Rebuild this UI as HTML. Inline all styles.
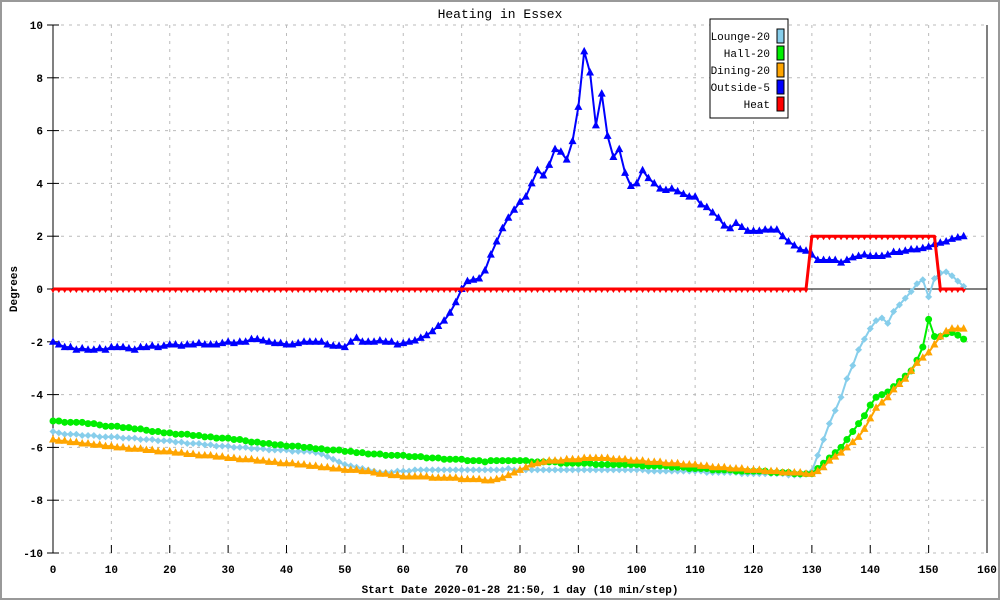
<!DOCTYPE html>
<html><head><meta charset="utf-8"><style>
html,body{margin:0;padding:0;background:#fff}
svg{display:block}
text{font-family:"Liberation Mono",monospace;font-size:11px;font-weight:bold;fill:#000}
#legend text{font-weight:normal}
</style></head><body>
<svg id="chart" width="1000" height="600" viewBox="0 0 1000 600" xmlns="http://www.w3.org/2000/svg">
<rect x="1" y="1" width="998" height="598" fill="#fff" stroke="#999" stroke-width="2"/>
<text x="500" y="18" text-anchor="middle" style="font-size:13px;font-weight:normal">Heating in Essex</text>
<text transform="translate(17,289) rotate(-90)" text-anchor="middle">Degrees</text>
<text x="520" y="593" text-anchor="middle">Start Date 2020-01-28 21:50, 1 day (10 min/step)</text>
<g id="grid"></g>
<g id="axes"></g>
<g id="series"></g>
<g id="legend">
<rect x="710" y="19" width="78" height="99" fill="#fff" stroke="#000"/>
</g>
</svg>
<script>
const xTicks=[0,10,20,30,40,50,60,70,80,90,100,110,120,130,140,150,160];
const yTicks=[-10,-8,-6,-4,-2,0,2,4,6,8,10];
const seriesNames=["Lounge-20","Hall-20","Dining-20","Outside-5","Heat"];
const lounge=[-5.4,-5.45,-5.5,-5.5,-5.5,-5.55,-5.55,-5.55,-5.6,-5.6,
-5.6,-5.6,-5.65,-5.65,-5.65,-5.7,-5.7,-5.7,-5.75,-5.75,
-5.75,-5.8,-5.8,-5.85,-5.85,-5.85,-5.9,-5.9,-5.95,-5.95,
-5.95,-6.0,-6.0,-6.0,-6.05,-6.05,-6.05,-6.1,-6.1,-6.1,
-6.1,-6.15,-6.15,-6.15,-6.15,-6.2,-6.25,-6.35,-6.45,-6.55,
-6.65,-6.7,-6.75,-6.8,-6.85,-6.9,-6.95,-6.95,-6.95,-6.9,
-6.9,-6.9,-6.85,-6.85,-6.85,-6.85,-6.85,-6.85,-6.85,-6.85,
-6.85,-6.85,-6.85,-6.85,-6.85,-6.85,-6.85,-6.85,-6.8,-6.85,
-6.85,-6.85,-6.85,-6.85,-6.85,-6.85,-6.85,-6.85,-6.85,-6.85,
-6.85,-6.85,-6.85,-6.85,-6.85,-6.85,-6.85,-6.85,-6.85,-6.85,
-6.85,-6.85,-6.9,-6.9,-6.9,-6.9,-6.9,-6.9,-6.9,-6.9,
-6.9,-6.9,-6.95,-6.95,-6.95,-6.95,-6.95,-6.95,-7.0,-7.0,
-7.0,-7.0,-7.0,-7.0,-7.0,-7.0,-7.05,-7.05,-7.05,-7.0,
-6.9,-6.3,-5.7,-5.1,-4.6,-4.1,-3.4,-2.9,-2.3,-1.9,
-1.5,-1.2,-1.1,-1.3,-0.85,-0.6,-0.35,-0.1,0.2,0.35,
-0.3,0.4,0.6,0.65,0.5,0.3,0.1];
const hall=[-5.0,-5.0,-5.05,-5.05,-5.05,-5.05,-5.1,-5.1,-5.15,-5.2,
-5.2,-5.2,-5.25,-5.25,-5.3,-5.3,-5.35,-5.4,-5.4,-5.45,
-5.45,-5.5,-5.5,-5.5,-5.55,-5.55,-5.6,-5.6,-5.65,-5.65,
-5.65,-5.7,-5.7,-5.75,-5.8,-5.8,-5.85,-5.85,-5.9,-5.9,
-5.95,-5.95,-5.95,-6.0,-6.0,-6.05,-6.05,-6.1,-6.1,-6.1,
-6.15,-6.15,-6.2,-6.2,-6.25,-6.25,-6.25,-6.3,-6.3,-6.3,
-6.3,-6.35,-6.35,-6.35,-6.4,-6.4,-6.4,-6.45,-6.45,-6.45,
-6.45,-6.5,-6.5,-6.5,-6.55,-6.5,-6.5,-6.5,-6.5,-6.5,
-6.5,-6.5,-6.55,-6.55,-6.55,-6.55,-6.55,-6.6,-6.6,-6.6,
-6.6,-6.6,-6.6,-6.65,-6.65,-6.65,-6.65,-6.65,-6.65,-6.65,
-6.65,-6.7,-6.7,-6.7,-6.7,-6.7,-6.75,-6.75,-6.75,-6.8,
-6.8,-6.8,-6.8,-6.85,-6.85,-6.85,-6.85,-6.9,-6.9,-6.9,
-6.9,-6.9,-6.9,-6.95,-6.95,-6.95,-6.95,-7.0,-7.0,-7.0,
-7.0,-6.8,-6.6,-6.4,-6.2,-6.0,-5.7,-5.4,-5.1,-4.8,
-4.4,-4.1,-4.0,-3.9,-3.7,-3.5,-3.3,-3.1,-2.7,-2.2,
-1.15,-1.8,-1.8,-1.7,-1.65,-1.75,-1.9];
const dining=[-5.7,-5.75,-5.75,-5.8,-5.8,-5.85,-5.85,-5.9,-5.9,-5.95,
-5.95,-6.0,-6.0,-6.05,-6.05,-6.05,-6.1,-6.1,-6.15,-6.15,
-6.15,-6.2,-6.2,-6.25,-6.25,-6.3,-6.3,-6.3,-6.35,-6.35,
-6.4,-6.4,-6.45,-6.45,-6.45,-6.5,-6.5,-6.55,-6.55,-6.6,
-6.6,-6.6,-6.65,-6.65,-6.7,-6.7,-6.75,-6.75,-6.8,-6.8,
-6.85,-6.85,-6.85,-6.9,-6.9,-6.95,-7.0,-7.0,-7.05,-7.05,
-7.1,-7.1,-7.1,-7.1,-7.1,-7.15,-7.15,-7.15,-7.15,-7.15,
-7.2,-7.2,-7.2,-7.2,-7.25,-7.25,-7.2,-7.15,-7.05,-6.95,
-6.85,-6.75,-6.65,-6.6,-6.55,-6.5,-6.5,-6.5,-6.45,-6.45,
-6.45,-6.4,-6.4,-6.4,-6.4,-6.4,-6.45,-6.45,-6.45,-6.5,
-6.5,-6.5,-6.55,-6.55,-6.55,-6.6,-6.6,-6.6,-6.65,-6.65,
-6.65,-6.7,-6.7,-6.75,-6.75,-6.75,-6.8,-6.8,-6.8,-6.85,
-6.85,-6.85,-6.9,-6.9,-6.9,-6.95,-6.95,-6.95,-6.95,-7.0,
-7.0,-6.9,-6.75,-6.5,-6.35,-6.2,-6.0,-5.8,-5.6,-5.3,
-4.9,-4.5,-4.3,-4.1,-3.8,-3.6,-3.4,-3.1,-2.8,-2.6,
-2.4,-2.1,-1.8,-1.6,-1.5,-1.5,-1.5];
const outside=[-2.0,-2.1,-2.2,-2.2,-2.3,-2.25,-2.3,-2.3,-2.25,-2.3,
-2.2,-2.2,-2.2,-2.25,-2.3,-2.2,-2.2,-2.15,-2.2,-2.15,
-2.1,-2.1,-2.15,-2.1,-2.1,-2.05,-2.1,-2.1,-2.1,-2.05,
-2.0,-2.05,-2.0,-2.0,-1.9,-1.9,-1.95,-2.0,-2.05,-2.05,
-2.1,-2.1,-2.05,-2.0,-2.0,-2.0,-2.0,-2.1,-2.15,-2.15,
-2.2,-2.0,-1.85,-2.0,-2.0,-2.0,-1.95,-2.0,-2.0,-2.1,
-2.05,-2.0,-1.95,-1.85,-1.75,-1.6,-1.4,-1.2,-0.9,-0.5,
0.0,0.3,0.35,0.4,0.7,1.3,1.8,2.3,2.7,3.0,
3.3,3.5,4.0,4.5,4.3,4.7,5.3,5.2,4.9,5.6,
6.9,9.0,8.2,6.2,7.4,5.8,5.0,5.3,4.4,3.9,
4.0,4.5,4.2,4.0,3.8,3.75,3.8,3.7,3.6,3.5,
3.5,3.2,3.1,2.9,2.7,2.4,2.3,2.5,2.35,2.2,
2.2,2.2,2.25,2.25,2.25,2.0,1.8,1.65,1.5,1.45,
1.3,1.1,1.1,1.1,1.1,1.0,1.1,1.2,1.25,1.3,
1.25,1.25,1.25,1.3,1.4,1.4,1.45,1.5,1.5,1.55,
1.6,1.7,1.75,1.8,1.9,1.95,2.0];
const heat=[0,0,0,0,0,0,0,0,0,0,0,0,0,0,0,0,0,0,0,0,
0,0,0,0,0,0,0,0,0,0,0,0,0,0,0,0,0,0,0,0,
0,0,0,0,0,0,0,0,0,0,0,0,0,0,0,0,0,0,0,0,
0,0,0,0,0,0,0,0,0,0,0,0,0,0,0,0,0,0,0,0,
0,0,0,0,0,0,0,0,0,0,0,0,0,0,0,0,0,0,0,0,
0,0,0,0,0,0,0,0,0,0,0,0,0,0,0,0,0,0,0,0,
0,0,0,0,0,0,0,0,0,0,
2,2,2,2,2,2,2,2,2,2,2,2,2,2,2,2,2,2,2,2,2,2,
0,0,0,0,0];

const NS='http://www.w3.org/2000/svg';
const L=53,R=987,T=25,B=553,XMIN=0,XMAX=160,YMIN=-10,YMAX=10;
function sx(v){return L+(v-XMIN)/(XMAX-XMIN)*(R-L);}
function sy(v){return B-(v-YMIN)/(YMAX-YMIN)*(B-T);}
function mk(tag,attrs,parent){const e=document.createElementNS(NS,tag);for(const k in attrs)e.setAttribute(k,attrs[k]);parent.appendChild(e);return e;}
const grid=document.getElementById('grid'),axes=document.getElementById('axes'),ser=document.getElementById('series'),leg=document.getElementById('legend');
xTicks.forEach(t=>{
  const g=mk('line',{x1:sx(t),x2:sx(t),y1:T,y2:B,stroke:'#bbb','stroke-dasharray':'3,5'},grid);
  
  
  const tk=mk('line',{x1:sx(t),x2:sx(t),y1:B,y2:B-8,stroke:'#000'},axes);
  
  
  const tx=mk('text',{x:sx(t),y:B+20,'text-anchor':'middle'},axes);tx.textContent=t;
  
  
});
yTicks.forEach(t=>{
  const g=mk('line',{x1:L,x2:R,y1:sy(t),y2:sy(t),stroke:'#bbb','stroke-dasharray':'3,5'},grid);
  
  
  const tk=mk('line',{x1:L-6,x2:L+6,y1:sy(t),y2:sy(t),stroke:'#000'},axes);
  
  
  const tx=mk('text',{x:L-10,y:sy(t)+4,'text-anchor':'end'},axes);tx.textContent=t;
  
  
});
let a=mk('line',{x1:L,x2:L,y1:T,y2:B,stroke:'#000'},axes);


a=mk('line',{x1:R,x2:R,y1:T,y2:B,stroke:'#000'},axes);


a=mk('line',{x1:L,x2:R,y1:sy(0),y2:sy(0),stroke:'#000'},axes);



const colors=['#87ceeb','#00ee00','#ffa500','#0000ff','#ff0000'];
const datasets=[lounge,hall,dining,outside,heat];
const shapes=['diamond','circle','tri','tri','dtri'];
function marker(shape,x,y,c,g){
  let e;
  if(shape==='circle')e=mk('circle',{cx:x,cy:y,r:3.5,fill:c},g);
  else if(shape==='diamond')e=mk('polygon',{points:`${x},${y-3.5} ${x+3.5},${y} ${x},${y+3.5} ${x-3.5},${y}`,fill:c},g);
  else if(shape==='tri')e=mk('polygon',{points:`${x},${y-4.5} ${x+4},${y+3} ${x-4},${y+3}`,fill:c},g);
  else e=mk('polygon',{points:`${x-2.5},${y} ${x+2.5},${y} ${x},${y+4}`,fill:c},g);
  return e;
}
datasets.forEach((d,si)=>{
  const g=mk('g',{},ser);
  
  
  const pts=d.map((v,i)=>sx(i)+','+sy(v)).join(' ');
  const pl=mk('polyline',{points:pts,fill:'none',stroke:colors[si],'stroke-width':si===4?3:2,'stroke-linejoin':'round'},g);
  
  
  d.forEach((v,i)=>{
    const m=marker(shapes[si],sx(i),sy(v),colors[si],g);
    
    
  });
});
seriesNames.forEach((n,i)=>{
  const y=36+i*17;
  const t=mk('text',{x:770,y:y+4,'text-anchor':'end'},leg);t.textContent=n;
  
  
  const r=mk('rect',{x:777,y:y-7,width:7,height:14,fill:colors[i],stroke:'#000'},leg);
  
  
});
</script>
</body></html>
